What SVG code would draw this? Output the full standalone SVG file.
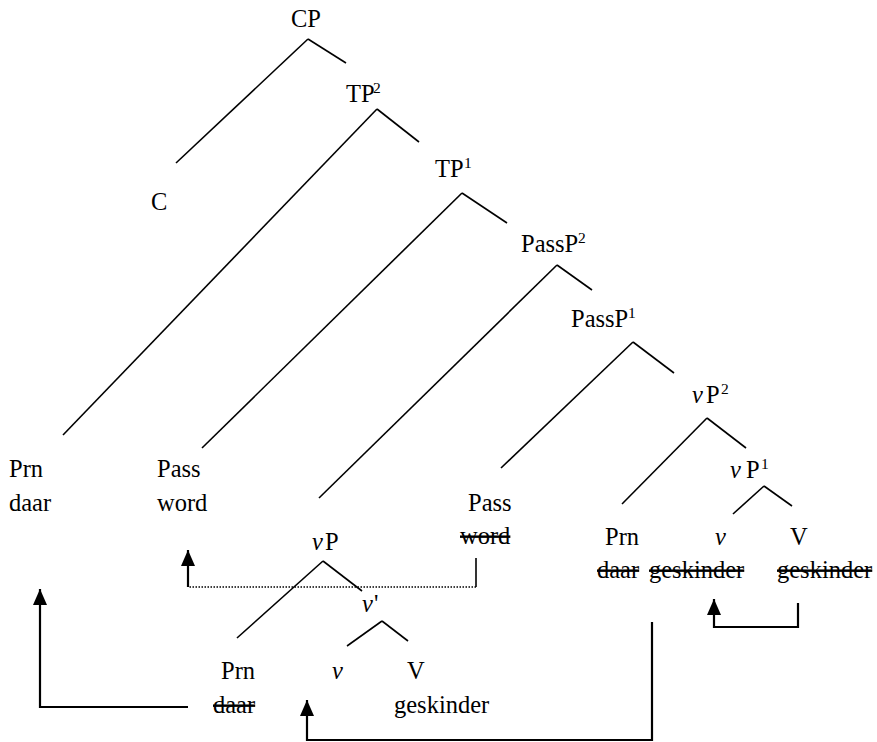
<svg xmlns="http://www.w3.org/2000/svg" width="877" height="742" viewBox="0 0 877 742">
<style>
text{font-family:'Liberation Serif','DejaVu Serif',serif;font-size:24.5px;fill:#000}
.i{font-style:italic}
.sup{font-size:15.5px}
.s{text-decoration:line-through}
.e{stroke:#000;stroke-width:1.6;fill:none}
.m{stroke:#000;stroke-width:2.2;fill:none}
.d{stroke:#000;stroke-width:1.3;fill:none;stroke-dasharray:1.5 1.5}
</style>
<defs>
<marker id="ah" markerUnits="userSpaceOnUse" markerWidth="16" markerHeight="14" viewBox="0 0 16 14" refX="16" refY="7" orient="auto">
<path d="M0,0 L16,7 L0,14 z" fill="#000"/>
</marker>
</defs>
<rect width="877" height="742" fill="#fff"/>
<g id="connectors">
<line class="e" x1="308" y1="39" x2="176" y2="163"/>
<line class="e" x1="308" y1="39" x2="346" y2="63"/>
<line class="e" x1="377" y1="109" x2="63" y2="435"/>
<line class="e" x1="377" y1="109" x2="419" y2="142"/>
<line class="e" x1="462" y1="193" x2="202" y2="448"/>
<line class="e" x1="462" y1="193" x2="507" y2="223"/>
<line class="e" x1="557" y1="265" x2="319" y2="498"/>
<line class="e" x1="557" y1="265" x2="592" y2="290"/>
<line class="e" x1="633" y1="342" x2="501" y2="468"/>
<line class="e" x1="633" y1="342" x2="674" y2="373"/>
<line class="e" x1="707" y1="418" x2="622" y2="504"/>
<line class="e" x1="707" y1="418" x2="746" y2="448"/>
<line class="e" x1="764" y1="486" x2="733" y2="514"/>
<line class="e" x1="764" y1="486" x2="792" y2="506"/>
<line class="e" x1="323" y1="561" x2="237" y2="638"/>
<line class="e" x1="323" y1="561" x2="362" y2="591"/>
<line class="e" x1="382" y1="621" x2="347" y2="646"/>
<line class="e" x1="382" y1="621" x2="408" y2="641"/>
<path class="e" d="M476,558 V587"/>
<path class="d" d="M476,587 H188"/>
<path class="m" d="M188,587 V550" marker-end="url(#ah)"/>
<path class="m" d="M188,707 H40 V589" marker-end="url(#ah)"/>
<path class="m" d="M652,622 V740 H307 V700" marker-end="url(#ah)"/>
<path class="m" d="M798,603 V627 H714 V599" marker-end="url(#ah)"/>
</g>
<g font-family="Liberation Serif, serif">
<g id="CP"><text x="291" y="27">CP</text></g>
<g id="C"><text x="151" y="210">C</text></g>
<g id="TP2"><text x="346" y="102">TP</text><text class="sup" x="373" y="93">2</text></g>
<g id="TP1"><text x="435" y="177">TP</text><text class="sup" x="464" y="168">1</text></g>
<g id="PassP2"><text x="521" y="252">PassP</text><text class="sup" x="578" y="243">2</text></g>
<g id="PassP1"><text x="571" y="327">PassP</text><text class="sup" x="628" y="318">1</text></g>
<g id="vP2"><text class="i" x="692" y="403">v</text><text x="706" y="403">P</text><text class="sup" x="721" y="394">2</text></g>
<g id="vP1"><text class="i" x="730" y="478">v</text><text x="746" y="478">P</text><text class="sup" x="761" y="469">1</text></g>
<g id="Prn-daar"><text x="9" y="477">Prn</text><text x="9" y="511">daar</text></g>
<g id="Pass-word"><text x="157" y="477">Pass</text><text x="157" y="511">word</text></g>
<g id="vP"><text class="i" x="312" y="550">v</text><text x="325" y="550">P</text></g>
<g id="Pass-word-trace"><text x="468" y="511">Pass</text><text class="s" x="460" y="544">word</text></g>
<g id="Prn-daar-trace1"><text x="605" y="545">Prn</text><text class="s" x="597" y="578">daar</text></g>
<g id="v-geskinder-trace"><text class="i" x="715" y="545">v</text><text class="s" x="649" y="578">geskinder</text></g>
<g id="V-geskinder-trace"><text x="790" y="545">V</text><text class="s" x="777" y="578">geskinder</text></g>
<g id="v-bar"><text class="i" x="362" y="612">v</text><text x="374" y="612">'</text></g>
<g id="Prn-daar-trace2"><text x="221" y="679">Prn</text><text class="s" x="213" y="713">daar</text></g>
<g id="v"><text class="i" x="332" y="679">v</text></g>
<g id="V-geskinder"><text x="407" y="679">V</text><text x="394" y="713">geskinder</text></g>
</g>
</svg>
